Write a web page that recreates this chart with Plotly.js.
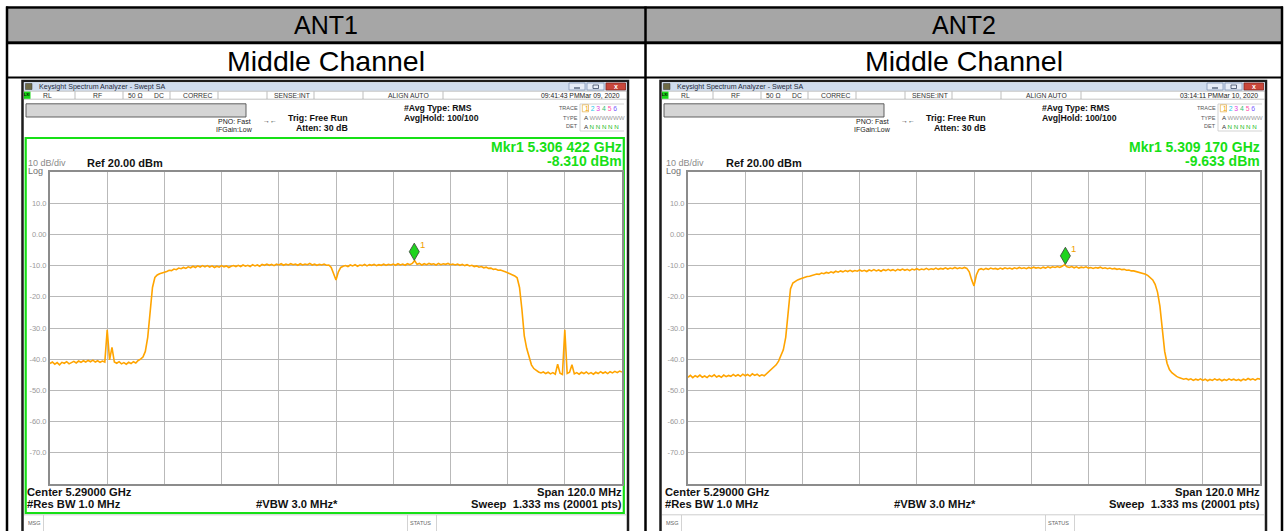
<!DOCTYPE html>
<html><head><meta charset="utf-8">
<script src="https://cdn.plot.ly/plotly-3.0.1.min.js"></script>
<style>html,body{margin:0;padding:0;background:#fff;overflow:hidden}#chart{width:1284px;height:531px}</style>
</head><body><div id="chart"></div>
<script>
// ---------------- DATA ----------------
const freqMHz = [
5230,5230.5,5231,5231.5,5232,5232.5,5233,5233.5,5234,5234.5,5235,5235.5,5236,5236.5,5237,5237.5,5238,5238.5,5239,5239.5,
5240,5240.5,5241,5241.5,5242,5242.5,5243,5243.5,5244,5244.5,5245,5245.5,5246,5246.5,5247,5247.5,5248,5248.5,5249,5249.5,
5250,5250.5,5251,5251.5,5252,5252.5,5253,5253.5,5254,5254.5,5255,5255.5,5256,5256.5,5257,5257.5,5258,5258.5,5259,5259.5,
5260,5260.5,5261,5261.5,5262,5262.5,5263,5263.5,5264,5264.5,5265,5265.5,5266,5266.5,5267,5267.5,5268,5268.5,5269,5269.5,
5270,5270.5,5271,5271.5,5272,5272.5,5273,5273.5,5274,5274.5,5275,5275.5,5276,5276.5,5277,5277.5,5278,5278.5,5279,5279.5,
5280,5280.5,5281,5281.5,5282,5282.5,5283,5283.5,5284,5284.5,5285,5285.5,5286,5286.5,5287,5287.5,5288,5288.5,5289,5289.5,
5290,5290.5,5291,5291.5,5292,5292.5,5293,5293.5,5294,5294.5,5295,5295.5,5296,5296.5,5297,5297.5,5298,5298.5,5299,5299.5,
5300,5300.5,5301,5301.5,5302,5302.5,5303,5303.5,5304,5304.5,5305,5305.5,5306,5306.5,5307,5307.5,5308,5308.5,5309,5309.5,
5310,5310.5,5311,5311.5,5312,5312.5,5313,5313.5,5314,5314.5,5315,5315.5,5316,5316.5,5317,5317.5,5318,5318.5,5319,5319.5,
5320,5320.5,5321,5321.5,5322,5322.5,5323,5323.5,5324,5324.5,5325,5325.5,5326,5326.5,5327,5327.5,5328,5328.5,5329,5329.5,
5330,5330.5,5331,5331.5,5332,5332.5,5333,5333.5,5334,5334.5,5335,5335.5,5336,5336.5,5337,5337.5,5338,5338.5,5339,5339.5,
5340,5340.5,5341,5341.5,5342,5342.5,5343,5343.5,5344,5344.5,5345,5345.5,5346,5346.5,5347,5347.5,5348,5348.5,5349,5349.5,
5350];

const ant1Level = [
-41.4,-40.9,-41.6,-41.1,-41.8,-41.0,-41.3,-40.8,-41.5,-41.0,-40.7,-41.2,-40.6,-41.0,-40.5,-40.9,-40.4,-40.8,-40.3,-40.9,
-40.5,-41.0,-40.6,-40.9,-30.6,-40.2,-36.2,-40.9,-41.3,-40.8,-41.5,-41.1,-41.6,-41.0,-41.4,-40.8,-41.2,-40.4,-40.0,-39.3,
-37.5,-33.0,-25.0,-17.0,-13.8,-13.0,-12.6,-12.4,-12.0,-11.9,-11.5,-11.6,-11.1,-11.3,-10.8,-11.0,-10.6,-10.9,-10.4,-10.7,
-10.2,-10.6,-10.1,-10.5,-10.0,-10.4,-10.0,-10.5,-10.1,-10.6,-10.2,-10.5,-10.0,-10.4,-10.1,-10.6,-10.2,-10.0,-10.3,-9.9,
-10.3,-9.8,-10.2,-9.9,-10.3,-9.7,-10.1,-9.8,-10.2,-9.6,-9.9,-9.5,-9.9,-9.6,-10.0,-9.5,-9.8,-9.4,-9.9,-9.5,
-9.8,-9.4,-9.7,-9.5,-9.9,-9.4,-9.8,-9.5,-9.7,-9.3,-9.8,-9.5,-9.9,-9.6,-9.8,-9.5,-9.9,-9.8,-10.6,-12.5,
-14.6,-12.0,-10.6,-10.2,-10.0,-10.3,-9.8,-10.1,-9.7,-10.2,-9.8,-10.0,-9.6,-10.1,-9.7,-9.9,-9.6,-10.0,-9.7,-9.9,
-9.5,-9.9,-9.6,-9.8,-9.5,-9.9,-9.4,-9.8,-9.5,-9.9,-9.4,-9.7,-9.3,-8.4,-9.6,-9.3,-9.8,-9.4,-9.7,-9.3,
-9.6,-9.4,-9.8,-9.3,-9.7,-9.4,-9.6,-9.3,-9.7,-9.5,-9.8,-9.5,-9.9,-9.6,-10.0,-9.7,-10.1,-9.9,-10.3,-10.1,
-10.5,-10.3,-10.7,-10.5,-10.9,-10.8,-11.2,-11.1,-11.5,-11.4,-11.8,-12.0,-12.3,-12.6,-12.9,-13.3,-13.9,-17.0,-24.0,-32.5,
-36.5,-39.5,-41.8,-43.0,-43.7,-44.1,-44.4,-44.1,-44.6,-44.2,-44.7,-44.3,-44.8,-41.6,-44.5,-44.9,-30.6,-44.6,-44.2,-41.8,
-44.7,-44.3,-44.8,-44.2,-44.6,-44.1,-44.7,-44.3,-44.8,-44.2,-44.6,-44.0,-44.5,-44.1,-44.6,-44.0,-44.4,-43.9,-44.3,-43.8,
-44.1];

const ant2Level = [
-45.8,-45.2,-45.9,-45.3,-45.7,-45.1,-45.8,-45.4,-45.9,-45.2,-45.6,-45.0,-45.7,-45.3,-45.8,-45.1,-45.6,-45.2,-45.5,-44.9,
-45.4,-45.0,-45.5,-44.8,-45.3,-44.9,-45.4,-44.7,-45.2,-44.8,-45.4,-45.0,-45.3,-44.6,-44.2,-43.4,-42.6,-41.8,-40.6,-39.0,
-37.0,-33.0,-24.0,-17.5,-15.6,-15.0,-14.6,-14.3,-14.0,-13.8,-13.5,-13.4,-13.1,-13.0,-12.7,-12.8,-12.4,-12.6,-12.2,-12.4,
-12.0,-12.3,-11.8,-12.1,-11.7,-12.0,-11.6,-11.9,-11.5,-11.9,-11.6,-11.8,-11.4,-11.8,-11.5,-11.9,-11.4,-11.7,-11.3,-11.7,
-11.4,-11.8,-11.3,-11.6,-11.2,-11.6,-11.3,-11.7,-11.2,-11.5,-11.1,-11.5,-11.2,-11.6,-11.1,-11.4,-11.0,-11.4,-11.1,-11.3,
-10.9,-11.3,-11.0,-11.2,-10.8,-11.2,-10.9,-11.1,-10.7,-11.1,-10.8,-11.0,-10.6,-11.0,-10.7,-10.9,-10.6,-10.9,-12.0,-14.5,
-16.5,-13.0,-11.3,-11.0,-11.3,-10.9,-11.2,-10.8,-11.1,-10.9,-11.2,-10.8,-11.1,-10.7,-11.0,-10.8,-11.1,-10.7,-11.0,-10.6,
-10.9,-10.7,-11.0,-10.6,-10.9,-10.5,-10.8,-10.6,-10.9,-10.5,-10.8,-10.4,-10.7,-10.4,-10.6,-10.3,-10.6,-10.2,-9.7,-10.4,
-10.6,-10.3,-10.7,-10.4,-10.8,-10.5,-10.7,-10.4,-10.8,-10.6,-10.9,-10.6,-10.8,-10.5,-10.9,-10.7,-11.0,-10.8,-11.1,-10.9,
-11.2,-11.0,-11.3,-11.2,-11.5,-11.4,-11.7,-11.7,-11.9,-12.0,-12.2,-12.5,-12.8,-13.2,-13.8,-14.6,-16.0,-18.5,-23.0,-31.5,
-37.5,-41.3,-43.3,-44.3,-45.0,-45.5,-45.9,-46.1,-46.4,-46.2,-46.6,-46.3,-46.8,-46.4,-46.7,-46.3,-46.8,-46.4,-46.9,-46.5,
-46.8,-46.3,-46.7,-46.4,-46.9,-46.5,-46.8,-46.3,-46.7,-46.4,-46.8,-46.5,-46.9,-46.4,-46.7,-46.2,-46.6,-46.3,-46.7,-46.2,
-46.4];

const markerFreq  = [5306.422, 5309.170];
const markerLevel = [-8.310, -9.633];
const markerFreqText  = ['Mkr1 5.306 422 GHz', 'Mkr1 5.309 170 GHz'];
const markerLevelText = ['-8.310 dBm', '-9.633 dBm'];
const panelTitles = ['ANT1', 'ANT2'];
const channelLabels = ['Middle Channel', 'Middle Channel'];
const timeStamps = ['09:41:43 PMMar 09, 2020', '03:14:11 PMMar 10, 2020'];
const yTickVals = [-70, -60, -50, -40, -30, -20, -10, 0, 10];
const yTickText = ['-70.0', '-60.0', '-50.0', '-40.0', '-30.0', '-20.0', '-10.0', '0.00', '10.0'];
const freqRange = [5230, 5350];
const levelRange = [-80, 20];

// ---------------- LAYOUT HELPERS ----------------
const W = 1284, H = 531;
const F = 'Liberation Sans, Arial, sans-serif';
const px = x => x / W, py = y => 1 - y / H;
const OFF = 638;
const PL = 50, PR = 622, PT = 172, PB = 484;
const shapes = [], ann = [];

function rect(x0, y0, x1, y1, fill, lc, lw, layer) {
  shapes.push({type: 'rect', xref: 'paper', yref: 'paper', x0: px(x0), x1: px(x1), y0: py(y1), y1: py(y0),
    fillcolor: fill || 'rgba(0,0,0,0)', line: {color: lc || 'rgba(0,0,0,0)', width: lw || 0}, layer: layer || 'below'});
}
function seg(x0, y0, x1, y1, c, lw, layer) {
  shapes.push({type: 'line', xref: 'paper', yref: 'paper', x0: px(x0), x1: px(x1), y0: py(y0), y1: py(y1),
    line: {color: c, width: lw}, layer: layer || 'below'});
}
function txt(text, x, y, size, color, anchor, family) {
  ann.push({text: text, xref: 'paper', yref: 'paper', x: px(x), y: py(y), xanchor: anchor || 'left', yanchor: 'middle',
    showarrow: false, borderpad: 0, font: {family: family || F, size: size, color: color || '#000'}});
}

// ---------------- TABLE ----------------
rect(7, 8.5, 1282, 41.5, '#a6a6a6');
seg(6, 7.5, 1283, 7.5, '#000', 2.5);
seg(6, 42.8, 1283, 42.8, '#000', 3);
seg(6, 77.5, 1283, 77.5, '#000', 2);
[7, 645.5, 1282].forEach(x => seg(x, 6.5, x, 531, '#000', 2.5));
txt(panelTitles[0], 326, 25, 25, '#000', 'center');
txt(panelTitles[1], 963.5, 25, 25, '#000', 'center');
txt(channelLabels[0], 326, 61, 28.5, '#000', 'center');
txt(channelLabels[1], 963.5, 61, 28.5, '#000', 'center');

// ---------------- ANALYZER WINDOWS ----------------
function panel(i) {
  const o = i * OFF;
  const X = v => v + o;
  // window frame
  rect(X(22.5), 81, X(628), 545, '#fff', '#1c1c1c', 2.5);
  // title bar
  rect(X(24), 82.3, X(626.7), 90.8, '#cfdcee');
  rect(X(25.5), 83.5, X(32), 89.5, '#6d6a45', '#333', 0.5);
  txt('Keysight Spectrum Analyzer - Swept SA', X(38), 86.8, 7.1, '#1e2a3a');
  rect(X(569), 83, X(585), 90, '#e8eef8', '#8196b6', 0.8);
  seg(X(574), 88, X(580), 88, '#3a4a66', 1.2);
  rect(X(587), 83, X(604), 90, '#e8eef8', '#8196b6', 0.8);
  rect(X(593), 85, X(598.5), 88.5, 'rgba(0,0,0,0)', '#3a4a66', 0.8);
  rect(X(606), 83, X(625.5), 90, '#c9473b', '#8a2a20', 0.8);
  txt('<b>x</b>', X(615.8), 86.3, 7, '#fff', 'center');
  // status row
  rect(X(24), 91.2, X(626.7), 99.2, '#fff', '#9a9a9a', 0.6);
  rect(X(24), 91.6, X(30.5), 98.8, '#19d919');
  txt('<b>LXI</b>', X(27.2), 95.3, 3.6, '#000', 'center');
  [75, 123, 170, 218, 267, 314, 363, 443].forEach(x => seg(X(x), 91.5, X(x), 99, '#a0a0a0', 0.7));
  txt('RL', X(42), 95.4, 6.8, '#333');
  txt('RF', X(92), 95.4, 6.8, '#333');
  txt('50 Ω', X(127), 95.4, 6.8, '#333');
  txt('DC', X(153), 95.4, 6.8, '#333');
  txt('CORREC', X(182), 95.4, 6.8, '#333');
  txt('SENSE:INT', X(273), 95.4, 6.8, '#333');
  txt('ALIGN AUTO', X(387), 95.4, 6.8, '#333');
  txt(timeStamps[i], X(621), 95.4, 6.8, '#222', 'right');
  // message box
  rect(X(26), 103.8, X(246), 117, '#d5d5d5', '#505050', 0.9);
  // settings text
  txt('PNO: Fast', X(217), 121.2, 7, '#1a1a1a');
  txt('IFGain:Low', X(215), 129.4, 7, '#1a1a1a');
  txt('→←', X(262), 121, 7, '#333');
  txt('<b>Trig: Free Run</b>', X(287), 118.3, 8.8, '#111');
  txt('<b>Atten: 30 dB</b>', X(295), 127.6, 8.8, '#111');
  txt('<b>#Avg Type: RMS</b>', X(403), 108.3, 8.7, '#111');
  txt('<b>Avg|Hold: 100/100</b>', X(403), 118.2, 8.7, '#111');
  // trace box
  seg(X(580), 104, X(580), 131, '#c8c8c8', 0.8);
  seg(X(580), 104, X(624), 104, '#c8c8c8', 0.8);
  seg(X(580), 131, X(624), 131, '#c8c8c8', 0.8);
  rect(X(582.3), 104.8, X(588.5), 111.8, 'rgba(0,0,0,0)', '#e0a020', 0.6);
  txt('TRACE', X(578.5), 108, 5.5, '#555', 'right');
  txt('TYPE', X(578.5), 117.6, 5.5, '#555', 'right');
  txt('DET', X(578.5), 126.2, 5.5, '#555', 'right');
  txt('<span style="color:#f0a000">1</span> <span style="color:#1cc8e8">2</span> <span style="color:#e040e0">3</span> <span style="color:#30c070">4</span> <span style="color:#ff55aa">5</span> <span style="color:#7a5cff">6</span>', X(583.5), 108.3, 6.8, '#000');
  txt('A <span style="color:#9a9a9a">WWWWWW</span>', X(582.5), 117.6, 6.2, '#333');
  txt('A <span style="color:#22bb22">N N N N N</span>', X(582.5), 126.2, 6.2, '#333');
  // green frame (first analyzer only)
  if (i === 0) rect(X(25.7), 138, X(623.8), 513, 'rgba(0,0,0,0)', '#16e016', 2.2);
  // marker readout
  txt('<b>' + markerFreqText[i] + '</b>', X(622.5), 146.8, 14, '#16e016', 'right');
  txt('<b>' + markerLevelText[i] + '</b>', X(622.5), 160.8, 14, '#16e016', 'right');
  // scale text
  txt('10 dB/div', X(27), 163, 9, '#8a8a8a');
  txt('Log', X(27), 171.3, 9, '#707070');
  txt('<b>Ref 20.00 dBm</b>', X(86.5), 162.6, 11, '#111');
  // bottom annotations
  txt('<b>Center 5.29000 GHz</b>', X(26), 492.3, 11.2, '#111');
  txt('<b>#Res BW 1.0 MHz</b>', X(26), 504.3, 11.2, '#111');
  txt('<b>#VBW 3.0 MHz*</b>', X(255), 504.3, 11.2, '#111');
  txt('<b>Span 120.0 MHz</b>', X(622.5), 492.3, 11.2, '#111', 'right');
  txt('<b>Sweep\u00a0\u00a01.333 ms (20001 pts)</b>', X(622.5), 504.3, 11.2, '#111', 'right');
  // msg / status row
  seg(X(24), 514.8, X(626.7), 514.8, '#c0c0c0', 0.8);
  seg(X(43.5), 515, X(43.5), 531, '#c8c8c8', 0.8);
  seg(X(407.5), 515, X(407.5), 531, '#c8c8c8', 0.8);
  seg(X(436.5), 515, X(436.5), 531, '#c8c8c8', 0.8);
  txt('MSG', X(27), 523, 5.5, '#666');
  txt('STATUS', X(409), 523, 5.5, '#666');

  // marker diamond and label, anchored to marker data
  const xr = i ? 'x2' : 'x', yr = i ? 'y2' : 'y';
  shapes.push({type: 'path', xref: xr, yref: yr, xsizemode: 'pixel', ysizemode: 'pixel',
    xanchor: markerFreq[i], yanchor: markerLevel[i], path: 'M0,0 L5,8.6 L0,17.2 L-5,8.6 Z',
    fillcolor: '#1fd41f', line: {color: '#3e4e3e', width: 0.9}, layer: 'above'});
  ann.push({text: '1', xref: xr, yref: yr, x: markerFreq[i], y: markerLevel[i], xshift: 8.5, yshift: 16,
    showarrow: false, xanchor: 'center', yanchor: 'middle', font: {family: F, size: 9.5, color: '#f0a000'}});
}
panel(0);
panel(1);

// ---------------- AXES ----------------
function xAxis(d) {
  return {domain: [px(d[0]), px(d[1])], range: freqRange, tick0: freqRange[0], dtick: 12, showticklabels: false,
    showgrid: true, gridcolor: '#b9b9b9', gridwidth: 1, zeroline: false, showline: true, linecolor: '#8c8c8c',
    linewidth: 2, mirror: true, ticks: '', fixedrange: true};
}
function yAxis(anchor) {
  return {domain: [py(PB), py(PT)], range: levelRange, tickvals: yTickVals, ticktext: yTickText, anchor: anchor,
    tickfont: {family: F, size: 7.5, color: '#9a9a9a'}, showgrid: true, gridcolor: '#b9b9b9', gridwidth: 1,
    zeroline: false, showline: true, linecolor: '#8c8c8c', linewidth: 2, mirror: true, ticks: '', fixedrange: true};
}

const traces = [
  {x: freqMHz, y: ant1Level, xaxis: 'x', yaxis: 'y', type: 'scatter', mode: 'lines',
   line: {color: '#ffa400', width: 1.6}, hoverinfo: 'skip'},
  {x: freqMHz, y: ant2Level, xaxis: 'x2', yaxis: 'y2', type: 'scatter', mode: 'lines',
   line: {color: '#ffa400', width: 1.6}, hoverinfo: 'skip'}
];

const layout = {
  width: W, height: H, margin: {l: 0, r: 0, t: 0, b: 0, pad: 0}, autosize: false,
  paper_bgcolor: '#fff', plot_bgcolor: '#fff', showlegend: false,
  xaxis: Object.assign(xAxis([PL, PR]), {anchor: 'y'}), yaxis: yAxis('x'),
  xaxis2: Object.assign(xAxis([PL + OFF, PR + OFF]), {anchor: 'y2'}), yaxis2: yAxis('x2'),
  shapes: shapes, annotations: ann
};

Plotly.newPlot('chart', traces, layout, {staticPlot: true, displayModeBar: false});
</script></body></html>
